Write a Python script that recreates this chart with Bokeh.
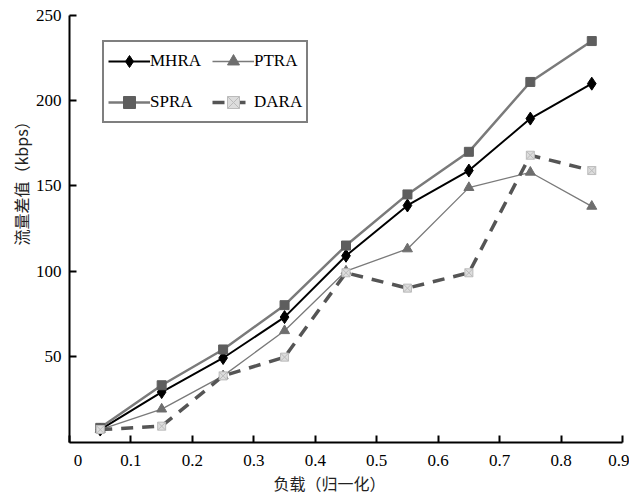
from bokeh.plotting import figure
from bokeh.models import Range1d, FixedTicker, Legend, LegendItem, Title
from bokeh.embed import file_html
from bokeh.resources import INLINE

# data
load = [0.05, 0.15, 0.25, 0.35, 0.45, 0.55, 0.65, 0.75, 0.85]
mhra = [7, 29, 49, 73, 109, 138.5, 159, 189.5, 210]
ptra = [7, 19, 38.5, 65, 100, 113, 149, 158, 138]
spra = [8, 33, 54, 80, 115, 145, 170, 211, 235]
dara = [7, 9, 38.5, 49.5, 99, 90, 99, 168, 159]
x_ticks = [0, 0.1, 0.2, 0.3, 0.4, 0.5, 0.6, 0.7, 0.8, 0.9]
y_ticks = [50, 100, 150, 200, 250]
x_title = "负载（归一化）"
y_title = "流量差值（kbps）"

SERIF = "Liberation Serif"
CJK = "Noto Sans CJK SC"

p = figure(width=629, height=494, output_backend="svg", toolbar_location=None,
           x_range=Range1d(0, 0.9), y_range=Range1d(-0.6, 250),
           min_border_left=69, min_border_right=7, min_border_top=15, min_border_bottom=52)
p.outline_line_color = None
p.grid.visible = False
p.background_fill_color = "white"

r_mhra_l = p.line(load, mhra, line_color="black", line_width=2)
r_mhra_m = p.scatter(load, mhra, marker="diamond", size=13, fill_color="black", line_color="black")
r_ptra_l = p.line(load, ptra, line_color="#7a7a7a", line_width=1.3)
r_ptra_m = p.scatter(load, ptra, marker="triangle", size=10, fill_color="#6e6e6e", line_color="#6e6e6e")
r_spra_l = p.line(load, spra, line_color="#7a7a7a", line_width=2.5)
r_spra_m = p.scatter(load, spra, marker="square", size=9, fill_color="#5e5e5e", line_color="#5e5e5e")
r_dara_l = p.line(load, dara, line_color="#555555", line_width=3.5, line_dash="12 9")
r_dara_m = p.scatter(load, dara, marker="square_x", size=8, fill_color="#dddddd", line_color="#bbbbbb")

xa = p.xaxis[0]
xa.ticker = FixedTicker(ticks=x_ticks)
xa.major_label_overrides = {0: "\u2007\u20070"}
xa.axis_line_width = 2
xa.axis_line_color = "black"
xa.major_tick_in = 7
xa.major_tick_out = 0
xa.major_tick_line_width = 2
xa.minor_tick_line_color = None
xa.major_label_text_font = SERIF
xa.major_label_text_font_size = "17px"
xa.major_label_text_color = "black"
xa.major_label_standoff = 8

ya = p.yaxis[0]
ya.ticker = FixedTicker(ticks=y_ticks)
ya.axis_line_width = 2
ya.axis_line_color = "black"
ya.major_tick_in = 7
ya.major_tick_out = 0
ya.major_tick_line_width = 2
ya.minor_tick_line_color = None
ya.major_label_text_font = SERIF
ya.major_label_text_font_size = "17px"
ya.major_label_text_color = "black"
ya.major_label_standoff = 8

# axis titles as side-panel titles, shifted along the axes like the reference
tx = Title(text=x_title, align="left", offset=204, text_font=CJK, text_font_size="16px",
           text_font_style="normal", text_color="#222222", standoff=-8)
p.add_layout(tx, "below")
ty = Title(text=y_title, align="left", offset=197, text_font=CJK, text_font_size="16px",
           text_font_style="normal", text_color="#222222", standoff=0)
p.add_layout(ty, "left")

legend = Legend(items=[
    LegendItem(label="MHRA", renderers=[r_mhra_l, r_mhra_m]),
    LegendItem(label="SPRA", renderers=[r_spra_l, r_spra_m]),
    LegendItem(label="PTRA", renderers=[r_ptra_l, r_ptra_m]),
    LegendItem(label="DARA", renderers=[r_dara_l, r_dara_m]),
], ncols=2, location=(33, 319))
legend.border_line_color = "black"
legend.border_line_width = 2
legend.background_fill_alpha = 1
legend.label_text_font = SERIF
legend.label_text_font_size = "17px"
legend.label_text_color = "black"
legend.glyph_width = 42
legend.glyph_height = 30
legend.label_standoff = 0
legend.label_width = 0
legend.label_height = 30
legend.spacing = 11
legend.padding = 4
legend.margin = 0
p.add_layout(legend)

open("out.html", "w").write(file_html(p, INLINE))
